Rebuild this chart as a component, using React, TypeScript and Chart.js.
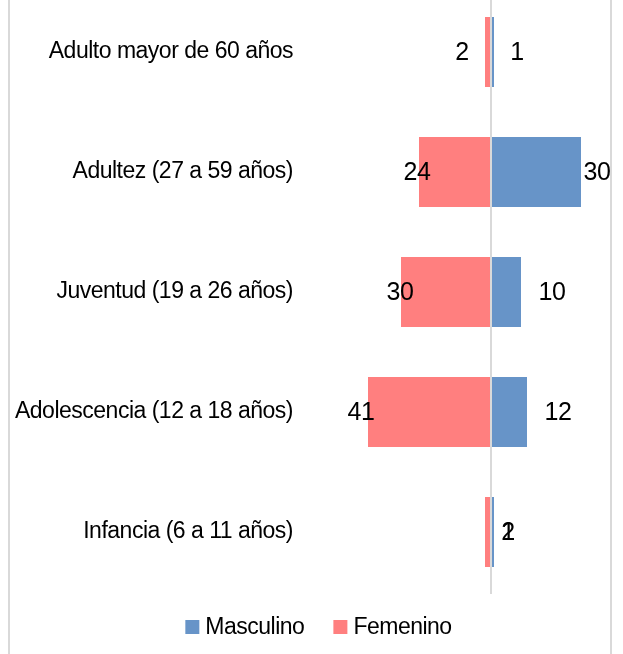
import { useEffect, useRef } from 'react';
import { Chart, registerables } from 'chart.js';

Chart.register(...registerables);

const categories = [
  'Adulto mayor de 60 años',
  'Adultez (27 a 59 años)',
  'Juventud (19 a 26 años)',
  'Adolescencia (12 a 18 años)',
  'Infancia (6 a 11 años)',
];
const seriesNames = ['Masculino', 'Femenino'];
const masculino = [1, 30, 10, 12, 1];
const femenino = [2, 24, 30, 41, 2];

// label placement (style): px distance of label centre outward from bar end
const maleLabelNudge = [23, 16, 31, 31, 14];
const femaleLabelNudge = [23, 2, 1, 7, -23];

const COLORS = { male: '#6794c8', female: '#ff7f7f', line: '#d9d9d9' };
const FONT = "'Liberation Sans', Arial, sans-serif";
const SPACING = '-0.5px';

const decorPlugin = {
  id: 'decor',
  beforeDraw(chart: any) {
    const ctx = chart.ctx;
    ctx.letterSpacing = SPACING;
    ctx.save();
    ctx.strokeStyle = COLORS.line;
    ctx.lineWidth = 2;
    ctx.beginPath();
    ctx.moveTo(9, 0);
    ctx.lineTo(9, chart.height);
    ctx.moveTo(611, 0);
    ctx.lineTo(611, chart.height);
    ctx.stroke();
    ctx.restore();
  },
  afterDatasetsDraw(chart: any) {
    const ctx = chart.ctx;
    const xs = chart.scales.x;
    const x0 = xs.getPixelForValue(0);
    ctx.save();
    ctx.letterSpacing = SPACING;
    ctx.strokeStyle = COLORS.line;
    ctx.lineWidth = 2;
    ctx.beginPath();
    ctx.moveTo(x0, 0);
    ctx.lineTo(x0, chart.chartArea.bottom + 2);
    ctx.stroke();

    ctx.font = `25px ${FONT}`;
    ctx.fillStyle = '#000';
    ctx.textAlign = 'center';
    ctx.textBaseline = 'middle';
    const mMeta = chart.getDatasetMeta(0);
    const fMeta = chart.getDatasetMeta(1);
    mMeta.data.forEach((bar: any, i: number) => {
      ctx.fillText(String(masculino[i]), bar.x + maleLabelNudge[i], bar.y + 1);
    });
    fMeta.data.forEach((bar: any, i: number) => {
      ctx.fillText(String(femenino[i]), bar.x - femaleLabelNudge[i], bar.y + 1);
    });

    // legend
    ctx.font = `23px ${FONT}`;
    ctx.textAlign = 'left';
    const items = [
      { name: seriesNames[0], color: COLORS.male },
      { name: seriesNames[1], color: COLORS.female },
    ];
    const box = 14, gapBox = 6, gapItem = 29;
    const widths = items.map((it) => ctx.measureText(it.name).width);
    const total = items.reduce((s, _it, i) => s + box + gapBox + widths[i], 0) + gapItem;
    let x = 318.5 - total / 2;
    const cy = 635;
    items.forEach((it, i) => {
      ctx.fillStyle = it.color;
      ctx.fillRect(x, cy - 7, box, box);
      ctx.fillStyle = '#000';
      ctx.fillText(it.name, x + box + gapBox, cy + 1);
      x += box + gapBox + widths[i] + gapItem;
    });
    ctx.restore();
  },
};

export default function App() {
  const ref = useRef<HTMLCanvasElement | null>(null);
  useEffect(() => {
    if (!ref.current) return;
    const chart = new Chart(ref.current, {
      type: 'bar',
      data: {
        labels: categories,
        datasets: [
          {
            label: seriesNames[0],
            data: masculino,
            backgroundColor: COLORS.male,
            barPercentage: 0.583,
            categoryPercentage: 1,
          },
          {
            label: seriesNames[1],
            data: femenino.map((v) => -v),
            backgroundColor: COLORS.female,
            barPercentage: 0.583,
            categoryPercentage: 1,
          },
        ],
      },
      options: {
        indexAxis: 'y',
        animation: false,
        responsive: true,
        maintainAspectRatio: false,
        layout: { padding: { left: 0, right: 12, top: 0, bottom: 62 } },
        plugins: {
          legend: { display: false },
          tooltip: { enabled: false },
        },
        scales: {
          x: {
            display: false,
            stacked: true,
            min: -64,
            max: 40,
          },
          y: {
            stacked: true,
            grid: { display: false, drawTicks: false },
            border: { display: false },
            ticks: {
              padding: 6,
              color: '#000',
              font: { family: FONT, size: 23 },
            },
            afterFit(scale: any) {
              scale.width = 299;
              scale.paddingTop = 0;
              scale.paddingBottom = 0;
            },
          },
        },
      },
      plugins: [decorPlugin],
    });
    return () => chart.destroy();
  }, []);
  return (
    <div style={{ position: 'fixed', left: 0, top: -8, width: 623, height: 662, background: '#fff' }}>
      <canvas ref={ref} />
    </div>
  );
}
